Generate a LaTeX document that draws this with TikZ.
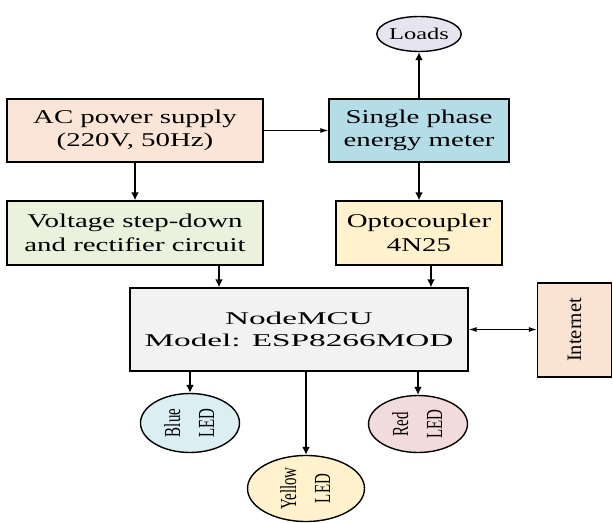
\documentclass[tikz,border=0pt]{standalone}
\usepackage{fontspec}
\setmainfont{Liberation Serif}
\newfontfamily\widefont[FakeStretch=1.48]{Liberation Serif}
\newfontfamily\widerfont[FakeStretch=1.85]{Liberation Serif}
\newfontfamily\narrowfont[FakeStretch=0.65]{Liberation Serif}
\newfontfamily\plainfont{Liberation Serif}
\usetikzlibrary{arrows.meta,shapes.geometric}
\definecolor{acfill}{HTML}{FBE5D6}
\definecolor{spfill}{HTML}{B4DDE7}
\definecolor{ldfill}{HTML}{E6E4EE}
\definecolor{vfill}{HTML}{EAF1DD}
\definecolor{opfill}{HTML}{FFF2CC}
\definecolor{mcufill}{HTML}{F2F2F2}
\definecolor{infill}{HTML}{FBE3D3}
\definecolor{bfill}{HTML}{DAEEF3}
\definecolor{yfill}{HTML}{FFF2CC}
\definecolor{rfill}{HTML}{F2DCDB}
\tikzset{
  blockbox/.style={draw=black, line width=1.4pt, rectangle, inner sep=0pt, align=center,
    font=\widefont\fontsize{19.5}{23.5}\selectfont},
  ledshape/.style={draw=black, line width=1.4pt, ellipse, inner sep=0pt},
  thickarr/.style={line width=2pt, -{Latex[length=8pt,width=8pt]}},
  thinarr/.style={line width=1pt, -{Latex[length=8pt,width=5pt]}},
  boththin/.style={line width=1pt, {Latex[length=8pt,width=5pt]}-{Latex[length=8pt,width=5pt]}}
}
\newcommand{\ledtext}[2]{\rotatebox{90}{\narrowfont\fontsize{23}{35}\selectfont\begin{tabular}{@{}c@{}}#1\\[-1pt]#2\end{tabular}}}
\begin{document}
\begin{tikzpicture}[x=1pt,y=-1pt]
\useasboundingbox (0,0) rectangle (613,522);
% blocks
\node[blockbox, fill=acfill, minimum width=256pt, minimum height=63pt] (ac) at (135,130.5) {AC power supply\\(220V, 50Hz)};
\node[blockbox, fill=spfill, minimum width=180pt, minimum height=63pt] (sp) at (419,130.5) {Single phase\\energy meter};
\node[ledshape, fill=ldfill, minimum width=83pt, minimum height=35pt, font=\widefont\fontsize{16.5}{20}\selectfont] (loads) at (419,34) {Loads};
\node[blockbox, fill=vfill, minimum width=256pt, minimum height=64pt] (volt) at (135,233) {Voltage step-down\\and rectifier circuit};
\node[blockbox, fill=opfill, minimum width=166pt, minimum height=64pt] (opto) at (419,233) {Optocoupler\\4N25};
\node[blockbox, fill=mcufill, minimum width=338pt, minimum height=83pt, font=\widerfont\fontsize{18}{22}\selectfont] (mcu) at (299,329.5) {NodeMCU\\Model: ESP8266MOD};
\node[blockbox, fill=infill, minimum width=74pt, minimum height=94pt, font=\plainfont\fontsize{20.5}{24}\selectfont] (net) at (574.5,330) {\rotatebox{90}{Internet}};
% LEDs
\node[ledshape, fill=bfill, minimum width=99pt, minimum height=59pt] (blue) at (190,423) {\ledtext{Blue}{LED}};
\node[ledshape, fill=yfill, minimum width=117pt, minimum height=66pt] (yellow) at (306,488.5) {\ledtext{Yellow}{LED}};
\node[ledshape, fill=rfill, minimum width=99pt, minimum height=57pt] (red) at (418,424) {\ledtext{Red}{LED}};
% connectors
\draw[thickarr] (ac.south) -- (volt.north);
\draw[thinarr] (ac.east) -- (sp.west);
\draw[thickarr] (sp.north) -- (loads.south);
\draw[thickarr] (sp.south) -- (opto.north);
\draw[thickarr] ([xshift=84pt]volt.south) -- ([xshift=84pt]volt.south |- mcu.north);
\draw[thickarr] ([xshift=12pt]opto.south) -- ([xshift=12pt]opto.south |- mcu.north);
\draw[thickarr] (mcu.south -| blue.north) -- (blue.north);
\draw[thickarr] (mcu.south -| yellow.north) -- (yellow.north);
\draw[thickarr] (mcu.south -| red.north) -- (red.north);
\draw[boththin] (mcu.east) -- (mcu.east -| net.west);
\end{tikzpicture}
\end{document}
